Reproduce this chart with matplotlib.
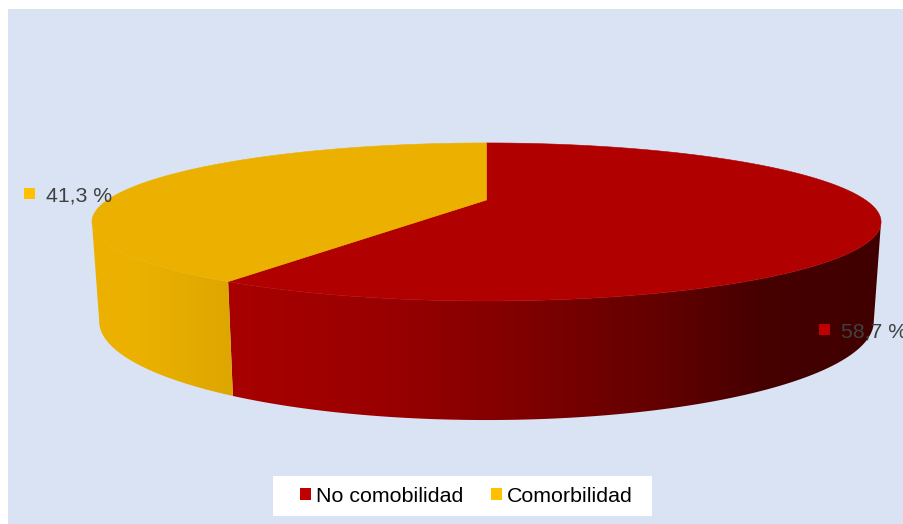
import numpy as np
import matplotlib.pyplot as plt
from matplotlib.patches import Polygon, Rectangle

plt.rcParams['font.family'] = ['Liberation Sans', 'DejaVu Sans']

categories = ["No comobilidad", "Comorbilidad"]
values = [58.7, 41.3]
labels = ["58,7 %", "41,3 %"]
legend_colors = ["#C00000", "#FFC000"]
top_colors = ["#B00000", "#ECB100"]

bg = "#DAE3F3"
cx = 486.5
persp = 0.278   # perspective of the tilted disc


def rim(theta, y0, b, r):
    # theta clockwise from 12 o'clock, in radians
    u = np.sin(theta)
    v = -np.cos(theta)
    d = 1 - persp * v
    return cx + r * u / d, y0 + b * v / d


def top(theta):
    return rim(theta, 200, 72.9, 379)


def bottom(theta):
    return rim(theta, 294, 91, 372)


def side_color(x, i):
    # shading along the wall, by horizontal position
    if i == 0:
        r = np.interp(x, [232, 380, 530, 670, 760, 880], [168, 154, 126, 96, 70, 64])
        return np.stack([r / 255, 0 * r, 0 * r], axis=-1)
    g = np.interp(x, [99, 130, 232], [176, 178, 166])
    r = np.interp(x, [99, 130, 232], [236, 236, 222])
    return np.stack([r / 255, g / 255, 0 * r], axis=-1)


fig = plt.figure(figsize=(9.04, 5.24), dpi=100, facecolor="white")
ax = fig.add_axes([0, 0, 1, 1])
ax.add_patch(Rectangle((8, 9), 900, 520, fc=bg, ec="none", zorder=0))

edges = np.cumsum([0] + values) / sum(values) * 2 * np.pi

# walls, only the part facing the viewer, gradient clipped to the wall shape
limit = np.arccos(-persp)
px = np.arange(90, 885)
for i in range(2):
    t = np.linspace(max(edges[i], limit), min(edges[i + 1], 2 * np.pi - limit), 200)
    tx, ty = top(t)
    bx, by = bottom(t)
    outline = list(zip(tx, ty)) + list(zip(bx[::-1], by[::-1]))
    wall = Polygon(outline, fc="none", ec="none", transform=ax.transData)
    ax.add_patch(wall)
    im = ax.imshow(side_color(px, i)[np.newaxis, :, :], extent=(90, 885, 430, 200),
                   aspect="auto", interpolation="bilinear", zorder=2)
    im.set_clip_path(wall)

ax.set_xlim(0, 904)
ax.set_ylim(524, 0)
ax.axis("off")

# top of the disc
handles = []
for i in range(2):
    t = np.linspace(edges[i], edges[i + 1], 300)
    xs, ys = top(t)
    pts = [(cx, 200)] + list(zip(xs, ys))
    ax.add_patch(Polygon(pts, fc=top_colors[i], ec=top_colors[i], lw=0.4, zorder=3))
    handles.append(Rectangle((0, 0), 1, 1, fc=legend_colors[i], ec="none", label=categories[i]))

# data labels
label_pos = [(819, 329.5), (24, 193.5)]
for i in range(2):
    lx, ly = label_pos[i]
    ax.add_patch(Rectangle((lx, ly - 5.5), 11, 11, fc=legend_colors[i], ec="none", zorder=4))
    ax.text(lx + 22.5, ly + 2, labels[i], fontsize=15.3, color="#404040", va="center", ha="left", zorder=5)

# legend
ax.add_patch(Rectangle((273, 476), 379, 40, fc="white", ec="none", zorder=4))
leg = ax.legend(handles=handles, ncol=2, frameon=False, fontsize=15.4,
                loc="center", bbox_to_anchor=(466.5 / 904, 1 - 496 / 524),
                handlelength=0.52, handleheight=0.52, handletextpad=0.24,
                columnspacing=1.27, borderpad=0, borderaxespad=0)
leg.set_zorder(5)

plt.savefig("out.png", dpi=100)
